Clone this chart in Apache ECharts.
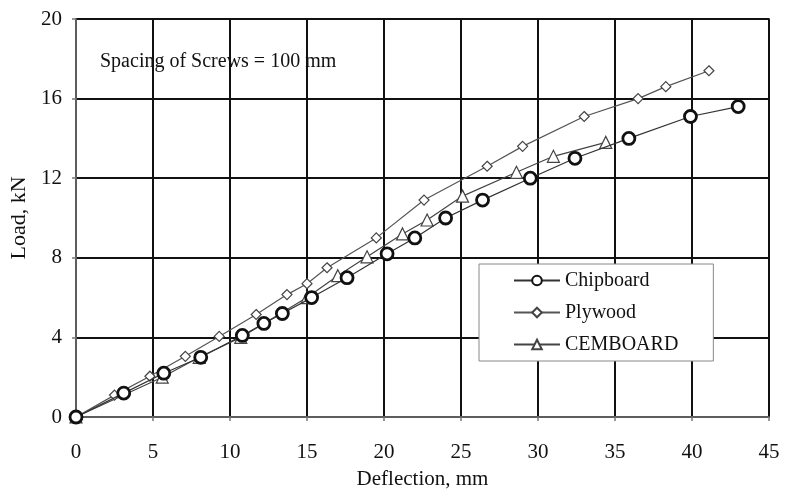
<!DOCTYPE html>
<html lang="en">
<head>
  <meta charset="UTF-8">
  <title>Load vs Deflection</title>
  <script src="https://cdn.jsdelivr.net/npm/echarts@6/dist/echarts.min.js"></script>
  <style>
    body { margin: 0; background: #fff; }
    #chart { width: 787px; height: 493px; }
  </style>
</head>
<body>
  <div id="chart"></div>
  <script>
    // values (deflection mm, load kN)
    const chipX = [0, 3.1, 5.7, 8.1, 10.8, 12.2, 13.4, 15.3, 17.6, 20.2, 22.0, 24.0, 26.4, 29.5, 32.4, 35.9, 39.9, 43.0];
    const chipY = [0, 1.2, 2.2, 3.0, 4.1, 4.7, 5.2, 6.0, 7.0, 8.2, 9.0, 10.0, 10.9, 12.0, 13.0, 14.0, 15.1, 15.6];
    const plyX = [0, 2.5, 4.8, 7.1, 9.3, 11.7, 13.7, 15.0, 16.3, 19.5, 22.6, 26.7, 29.0, 33.0, 36.5, 38.3, 41.1];
    const plyY = [0, 1.1, 2.05, 3.05, 4.05, 5.15, 6.15, 6.7, 7.5, 9.0, 10.9, 12.6, 13.6, 15.1, 16.0, 16.6, 17.4];
    const cemX = [0, 5.6, 8.0, 10.7, 15.0, 17.0, 18.9, 21.2, 22.8, 25.1, 28.6, 31.0, 34.4];
    const cemY = [0, 2.0, 3.0, 4.0, 6.0, 7.1, 8.05, 9.2, 9.9, 11.1, 12.3, 13.1, 13.8];
    const seriesNames = ['Chipboard', 'Plywood', 'CEMBOARD'];
    const note = 'Spacing of Screws = 100 mm';

    const pairs = (xs, ys) => xs.map((x, i) => [x, ys[i]]);
    const font = 'Liberation Serif, Times New Roman, serif';

    var chart = echarts.init(document.getElementById('chart'));

    const option = {
      animation: false,
      textStyle: { fontFamily: font },
      grid: {
        left: 76, right: 18, top: 19, bottom: 76, outerBoundsMode: 'none',
        show: true, borderColor: '#111', borderWidth: 1.5
      },
      xAxis: {
        type: 'value', min: 0, max: 45, interval: 5,
        name: 'Deflection, mm', nameLocation: 'middle', nameGap: 52,
        nameTextStyle: { fontSize: 21, color: '#111', fontFamily: font },
        axisLine: { lineStyle: { color: '#777', width: 1.5 } },
        axisTick: { show: true, length: 4, lineStyle: { color: '#777', width: 1.5 } },
        axisLabel: { fontSize: 21, color: '#111', margin: 25, fontFamily: font },
        splitLine: { lineStyle: { color: '#111', width: 2 } }
      },
      yAxis: {
        type: 'value', min: 0, max: 20, interval: 4,
        name: 'Load, kN', nameLocation: 'middle', nameGap: 46,
        nameTextStyle: { fontSize: 22, color: '#111', fontFamily: font },
        axisLine: { lineStyle: { color: '#777', width: 1.5 } },
        axisTick: { show: true, length: 4, lineStyle: { color: '#777', width: 1.5 } },
        axisLabel: { fontSize: 21, color: '#111', margin: 14, fontFamily: font },
        splitLine: { lineStyle: { color: '#111', width: 2 } }
      },
      legend: {
        orient: 'vertical', left: 479, top: 264,
        data: seriesNames,
        backgroundColor: '#fff', borderColor: '#888', borderWidth: 1,
        padding: [6, 35, 6, 34],
        itemWidth: 46, itemHeight: 12, itemGap: 11,
        textStyle: { fontSize: 20, color: '#111', lineHeight: 21, fontFamily: font }
      },
      graphic: [{
        type: 'text', left: 100, top: 52, z: 10,
        style: { text: note, fontSize: 20, fill: '#111', fontFamily: font }
      }],
      series: [
        {
          name: seriesNames[0], type: 'line', data: pairs(chipX, chipY),
          symbol: 'circle', symbolSize: 12, z: 4,
          lineStyle: { color: '#333', width: 1.2 },
          itemStyle: { color: '#fff', borderColor: '#111', borderWidth: 2.8 }
        },
        {
          name: seriesNames[1], type: 'line', data: pairs(plyX, plyY),
          symbol: 'diamond', symbolSize: 10, z: 3,
          lineStyle: { color: '#555', width: 1.2 },
          itemStyle: { color: '#fff', borderColor: '#444', borderWidth: 1.2 }
        },
        {
          name: seriesNames[2], type: 'line', data: pairs(cemX, cemY),
          symbol: 'triangle', symbolSize: 12, z: 2,
          lineStyle: { color: '#444', width: 1.2 },
          itemStyle: { color: '#fff', borderColor: '#444', borderWidth: 1.2 }
        }
      ]
    };

    chart.setOption(option);
  </script>
</body>
</html>
